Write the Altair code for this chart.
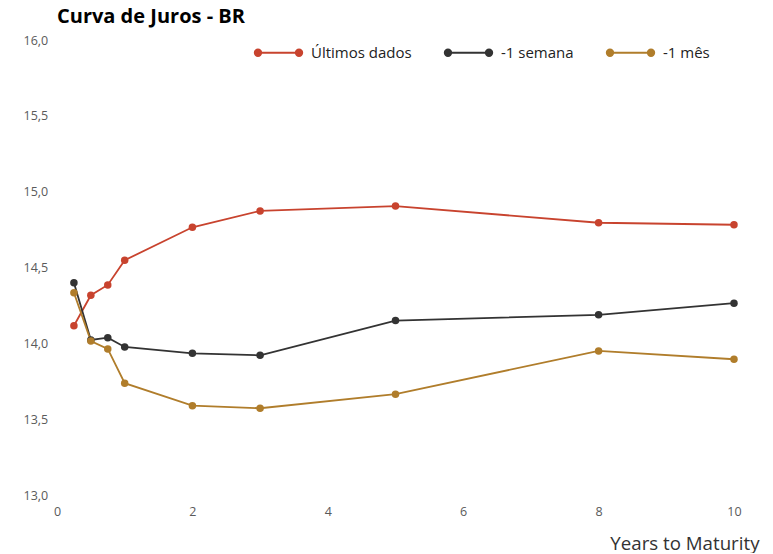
import altair as alt
import pandas as pd

maturity = [0.25, 0.5, 0.75, 1, 2, 3, 5, 8, 10]
ultimos = [14.116, 14.317, 14.385, 14.548, 14.765, 14.873, 14.905, 14.795, 14.782]
semana = [14.400, 14.022, 14.037, 13.976, 13.934, 13.921, 14.150, 14.188, 14.265]
mes = [14.334, 14.015, 13.963, 13.737, 13.589, 13.572, 13.665, 13.950, 13.895]

series_names = ["Últimos dados", "-1 semana", "-1 mês"]
series_colors = ["#C8432E", "#333333", "#B07D2B"]
y_ticks = [13.0, 13.5, 14.0, 14.5, 15.0, 15.5, 16.0]
x_ticks = [0, 2, 4, 6, 8, 10]

rows = []
for name, vals in zip(series_names, [ultimos, semana, mes]):
    for m, v in zip(maturity, vals):
        rows.append({"Maturity": m, "Taxa": v, "Serie": name})
df = pd.DataFrame(rows)


def ring(cx, r):
    return (f"M{cx - r:.3f},0a{r:.3f},{r:.3f} 0 1,0 {2 * r:.3f},0"
            f"a{r:.3f},{r:.3f} 0 1,0 {-2 * r:.3f},0")


sym_path = "M-0.837,0L0.837,0"
for c in (-0.837, 0.837):
    for r in (0.13, 0.09, 0.05, 0.015):
        sym_path += ring(c, r)

FONT = "Open Sans"

chart = alt.Chart(df).mark_line(
    strokeWidth=1.8,
    point=alt.OverlayMarkDef(size=56, filled=True, opacity=1),
).encode(
    x=alt.X("Maturity:Q",
            scale=alt.Scale(domain=[0, 10], nice=False, zero=False),
            axis=alt.Axis(values=x_ticks, title="Years to Maturity", grid=False,
                          domain=False, ticks=False, labelPadding=10, labelFlush=False,
                          labelFontSize=12.5, labelColor="#5a5a5a", labelFont=FONT,
                          titleFont=FONT, titleFontSize=18.7, titleFontWeight="normal",
                          titleColor="#333333", titleAnchor="end", titleAlign="right",
                          titleX=702, titleY=54.5, titleBaseline="alphabetic")),
    y=alt.Y("Taxa:Q",
            scale=alt.Scale(domain=[13, 16], nice=False, zero=False),
            axis=alt.Axis(values=y_ticks, title=None, grid=False, domain=False,
                          ticks=False, labelAlign="left", labelPadding=34,
                          labelFontSize=12.5, labelColor="#5a5a5a", labelFont=FONT,
                          labelExpr="replace(format(datum.value, '.1f'), '.', ',')")),
    color=alt.Color("Serie:N",
                    scale=alt.Scale(domain=series_names, range=series_colors),
                    sort=series_names,
                    legend=alt.Legend(title=None, orient="none", direction="horizontal",
                                      legendX=196, legendY=-13, padding=0,
                                      symbolType=sym_path, symbolSize=2401,
                                      symbolStrokeWidth=2, labelOffset=7,
                                      columnPadding=28, labelFontSize=15,
                                      labelFont=FONT, labelColor="#222222")),
).properties(
    width=677,
    height=455,
    title=alt.TitleParams("Curva de Juros - BR", anchor="start", frame="group",
                          font=FONT, fontSize=20, fontWeight="bold",
                          color="#000000", offset=0),
    autosize=alt.AutoSizeParams(type="none"),
    padding={"left": 49, "top": 32, "right": 31, "bottom": 58},
).configure_view(stroke=None)

chart.save("out.html", embed_options={"renderer": "svg", "actions": False})
